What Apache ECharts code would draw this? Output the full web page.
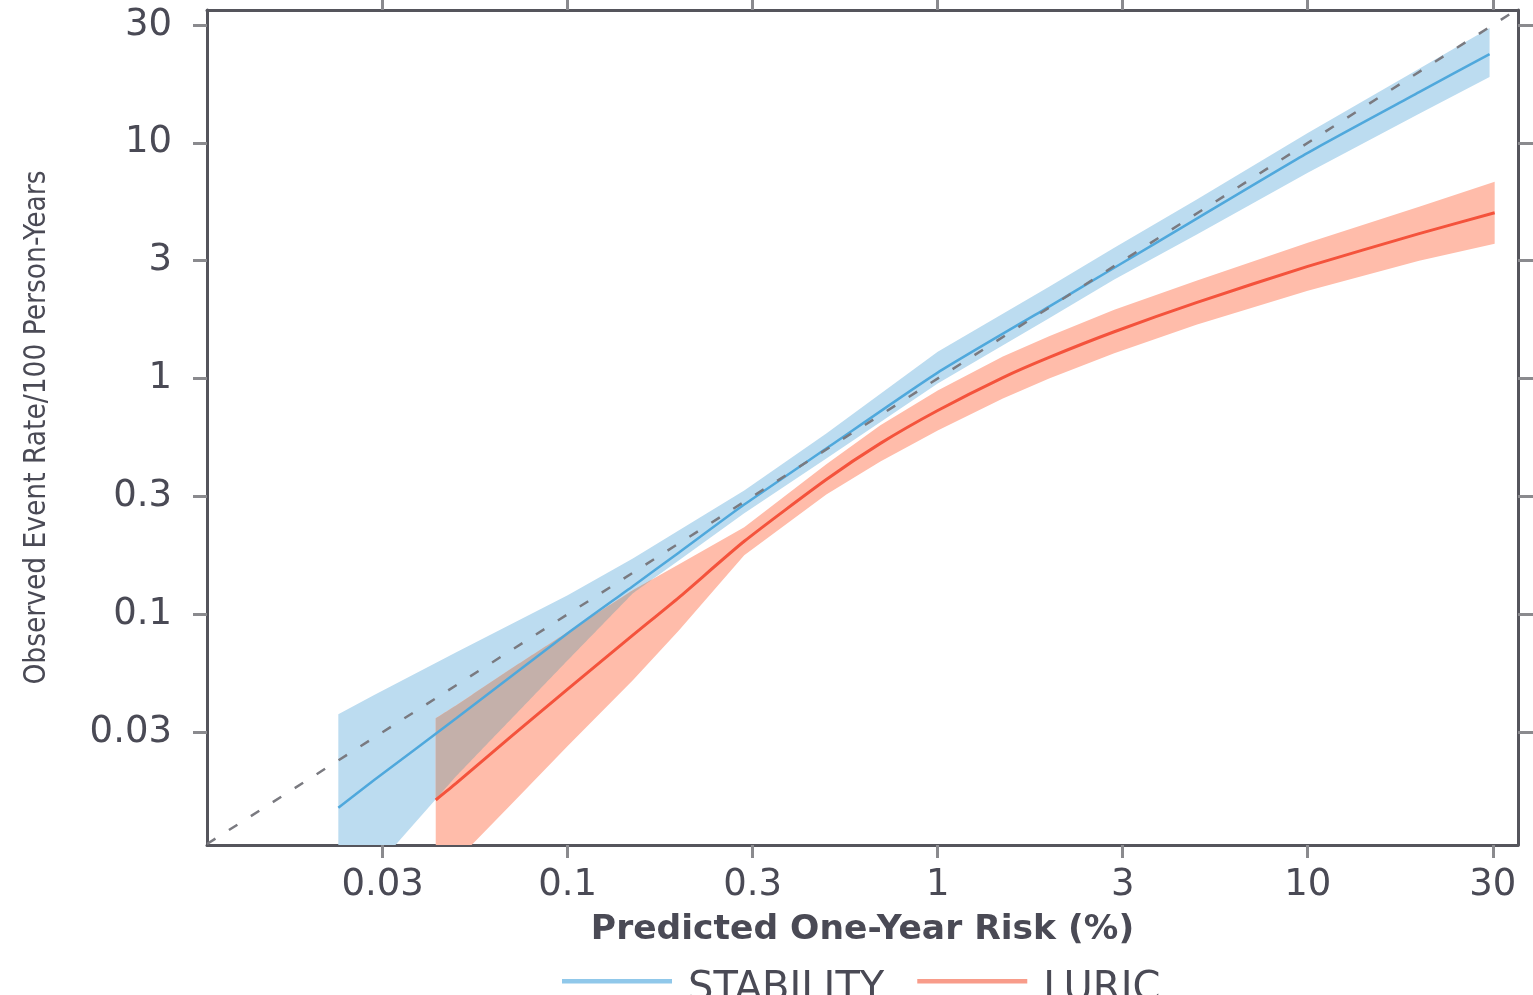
<!DOCTYPE html>
<html>
<head>
<meta charset="utf-8">
<script src="https://cdn.jsdelivr.net/npm/echarts@6/dist/echarts.min.js"></script>
<style>
  html, body { margin: 0; padding: 0; background: #ffffff; }
  #chart { width: 1533px; height: 995px; }
</style>
</head>
<body>
<div id="chart"></div>
<script>
// ---- Axis ticks (placed at half-decades, labelled as in the original) ----
const tickExponents = [-1.5, -1, -0.5, 0, 0.5, 1, 1.5];
const tickLabels = ['0.03', '0.1', '0.3', '1', '3', '10', '30'];
const xRange = [0.0106, 37.0];
const yRange = [0.0105, 36.6];
const identityLine = [0.0106, 37.0];

// ---- STABILITY (predicted risk %, observed rate /100 PY, 95% band) ----
const stabX     = [0.024, 0.03, 0.05, 0.1, 0.15, 0.2, 0.3, 0.5, 1, 2, 3, 5, 10, 20, 31];
const stabMid   = [0.0151, 0.0198, 0.0362, 0.083, 0.1315, 0.183, 0.292, 0.505, 1.06, 2.02, 2.95, 4.76, 9.07, 16.4, 23.8];
const stabUpper = [0.0377, 0.0454, 0.069, 0.1205, 0.1725, 0.227, 0.335, 0.585, 1.30, 2.45, 3.59, 5.73, 11.0, 20.6, 30.7];
const stabLower = [0.0055, 0.0083, 0.0206, 0.0638, 0.1227, 0.1694, 0.268, 0.458, 0.953, 1.80, 2.63, 4.07, 7.46, 13.3, 19.0];

// ---- LURIC ----
const luricX     = [0.044, 0.05, 0.07, 0.1, 0.15, 0.2, 0.3, 0.5, 0.7, 1, 1.5, 2, 3, 5, 10, 20, 32];
const luricMid   = [0.0163, 0.0192, 0.0301, 0.0481, 0.0815, 0.118, 0.204, 0.373, 0.531, 0.732, 1.01, 1.23, 1.58, 2.10, 2.99, 4.12, 5.05];
const luricUpper = [0.0362, 0.0411, 0.0585, 0.0840, 0.1265, 0.163, 0.234, 0.433, 0.633, 0.889, 1.24, 1.51, 1.96, 2.60, 3.77, 5.36, 6.84];
const luricLower = [0.0073, 0.0090, 0.0155, 0.0276, 0.0525, 0.0855, 0.178, 0.322, 0.445, 0.602, 0.822, 1.00, 1.28, 1.69, 2.36, 3.16, 3.73];

const L = Math.log10;
const FONT = '"DejaVu Sans", Verdana, sans-serif';
const TEXT = '#4a4a55';

function pairs(xs, ys) { return xs.map((x, i) => [L(x), L(ys[i])]); }

// linear interpolation in log space (straight edges on the chart)
function interp(xs, ys, lx) {
  for (let i = 0; i < xs.length - 1; i++) {
    const a = L(xs[i]), b = L(xs[i + 1]);
    if (lx >= a && lx <= b) {
      const t = (lx - a) / (b - a);
      return L(ys[i]) + t * (L(ys[i + 1]) - L(ys[i]));
    }
  }
  return null;
}

function bandSeries(name, xs, lo, hi, color, z) {
  return {
    type: 'custom', name: name, clip: true, z: z, silent: true,
    data: [[L(xs[0]), L(lo[0])]],
    renderItem: function (params, api) {
      const pts = [];
      for (let i = 0; i < xs.length; i++) pts.push(api.coord([L(xs[i]), L(hi[i])]));
      for (let i = xs.length - 1; i >= 0; i--) pts.push(api.coord([L(xs[i]), L(lo[i])]));
      return { type: 'polygon', shape: { points: pts }, style: { fill: color } };
    }
  };
}

// region where both confidence bands overlap (drawn in the mixed tint)
function overlapSeries(color, z) {
  return {
    type: 'custom', name: 'overlap', clip: true, z: z, silent: true,
    data: [[L(luricX[0]), L(luricLower[0])]],
    renderItem: function (params, api) {
      const x0 = Math.max(L(stabX[0]), L(luricX[0]));
      const x1 = Math.min(L(stabX[stabX.length - 1]), L(luricX[luricX.length - 1]));
      const n = 700;
      const runs = [];
      let cur = null;
      for (let k = 0; k <= n; k++) {
        const lx = x0 + (x1 - x0) * k / n;
        const bl = interp(stabX, stabLower, lx), bh = interp(stabX, stabUpper, lx);
        const rl = interp(luricX, luricLower, lx), rh = interp(luricX, luricUpper, lx);
        if (bl === null || rl === null) { cur = null; continue; }
        const lo = Math.max(bl, rl), hi = Math.min(bh, rh);
        if (hi > lo) {
          if (!cur) { cur = []; runs.push(cur); }
          cur.push([lx, lo, hi]);
        } else cur = null;
      }
      const children = runs.filter(r => r.length > 1).map(r => {
        const pts = r.map(p => api.coord([p[0], p[2]]));
        for (let i = r.length - 1; i >= 0; i--) pts.push(api.coord([r[i][0], r[i][1]]));
        return { type: 'polygon', shape: { points: pts }, style: { fill: color } };
      });
      return { type: 'group', children: children };
    }
  };
}

function tickFmt(v) {
  for (let i = 0; i < tickExponents.length; i++) {
    if (Math.abs(v - tickExponents[i]) < 1e-6) return tickLabels[i];
  }
  return '';
}

const axisLineStyle = { color: '#55555c', width: 3 };
const tickStyle = { color: '#8a8a8e', width: 3 };
const legendIcon = 'path://M0,0H100V4H0Z M0,19.9H0.01V20H0Z';

const chart = echarts.init(document.getElementById('chart'), null, { renderer: 'canvas' });
chart.setOption({
  animation: false,
  backgroundColor: '#ffffff',
  grid: { left: 207, right: 15, top: 10, bottom: 150, containLabel: false },
  legend: {
    left: 557, top: 965,
    itemWidth: 116, itemHeight: 22, itemGap: 33,
    textStyle: { fontFamily: FONT, fontSize: 40, color: TEXT, padding: [0, 0, 0, 8] },
    data: [
      { name: 'STABILITY', icon: legendIcon, itemStyle: { color: '#90c8ea' } },
      { name: 'LURIC', icon: legendIcon, itemStyle: { color: '#f89c8a' } }
    ]
  },
  xAxis: [
    {
      type: 'value', position: 'bottom',
      min: L(xRange[0]), max: L(xRange[1]),
      axisLine: { show: true, onZero: false, lineStyle: axisLineStyle },
      axisTick: { show: true, customValues: tickExponents, length: 13, lineStyle: tickStyle },
      axisLabel: { customValues: tickExponents, formatter: tickFmt, fontFamily: FONT, fontSize: 37, color: TEXT, margin: 22 },
      splitLine: { show: false },
      name: 'Predicted One-Year Risk (%)', nameLocation: 'middle', nameGap: 68,
      nameTextStyle: { fontFamily: FONT, fontSize: 34.5, fontWeight: 'bold', color: TEXT }
    },
    {
      type: 'value', position: 'top',
      min: L(xRange[0]), max: L(xRange[1]),
      axisLine: { show: true, onZero: false, lineStyle: axisLineStyle },
      axisTick: { show: true, customValues: tickExponents, length: 12, lineStyle: tickStyle },
      axisLabel: { show: false },
      splitLine: { show: false }
    }
  ],
  yAxis: [
    {
      type: 'value', position: 'left',
      min: L(yRange[0]), max: L(yRange[1]),
      axisLine: { show: true, onZero: false, lineStyle: axisLineStyle },
      axisTick: { show: true, customValues: tickExponents, length: 14, lineStyle: tickStyle },
      axisLabel: { customValues: tickExponents, formatter: tickFmt, fontFamily: FONT, fontSize: 37, color: TEXT, margin: 35 },
      splitLine: { show: false },
      name: 'Observed Event Rate/100 Person-Years', nameLocation: 'middle', nameGap: 155, nameRotate: 90,
      nameTextStyle: { fontFamily: '"Liberation Sans Narrow", "DejaVu Sans Condensed", sans-serif', fontSize: 29.5, color: TEXT }
    },
    {
      type: 'value', position: 'right',
      min: L(yRange[0]), max: L(yRange[1]),
      axisLine: { show: true, onZero: false, lineStyle: axisLineStyle },
      axisTick: { show: true, customValues: tickExponents, length: 15, lineStyle: tickStyle },
      axisLabel: { show: false },
      splitLine: { show: false }
    }
  ],
  series: [
    bandSeries('STABILITY band', stabX, stabLower, stabUpper, '#bcdcf0', 1),
    bandSeries('LURIC band', luricX, luricLower, luricUpper, '#ffbcaa', 2),
    overlapSeries('#c4b0aa', 3),
    {
      type: 'line', name: 'STABILITY', z: 4, clip: true,
      data: pairs(stabX, stabMid), symbol: 'none', smooth: 0.2,
      lineStyle: { color: '#4fa8dc', width: 2.5 }, itemStyle: { color: '#4fa8dc' }
    },
    {
      type: 'line', name: 'LURIC', z: 5, clip: true,
      data: pairs(luricX, luricMid), symbol: 'none', smooth: 0.2,
      lineStyle: { color: '#f4533c', width: 3 }, itemStyle: { color: '#f4533c' }
    },
    {
      type: 'line', name: 'identity', z: 6, clip: true, silent: true,
      data: identityLine.map(v => [L(v), L(v)]), symbol: 'none',
      lineStyle: { color: '#7a7a80', width: 2.5, type: [10, 16] }
    }
  ]
});
</script>
</body>
</html>
